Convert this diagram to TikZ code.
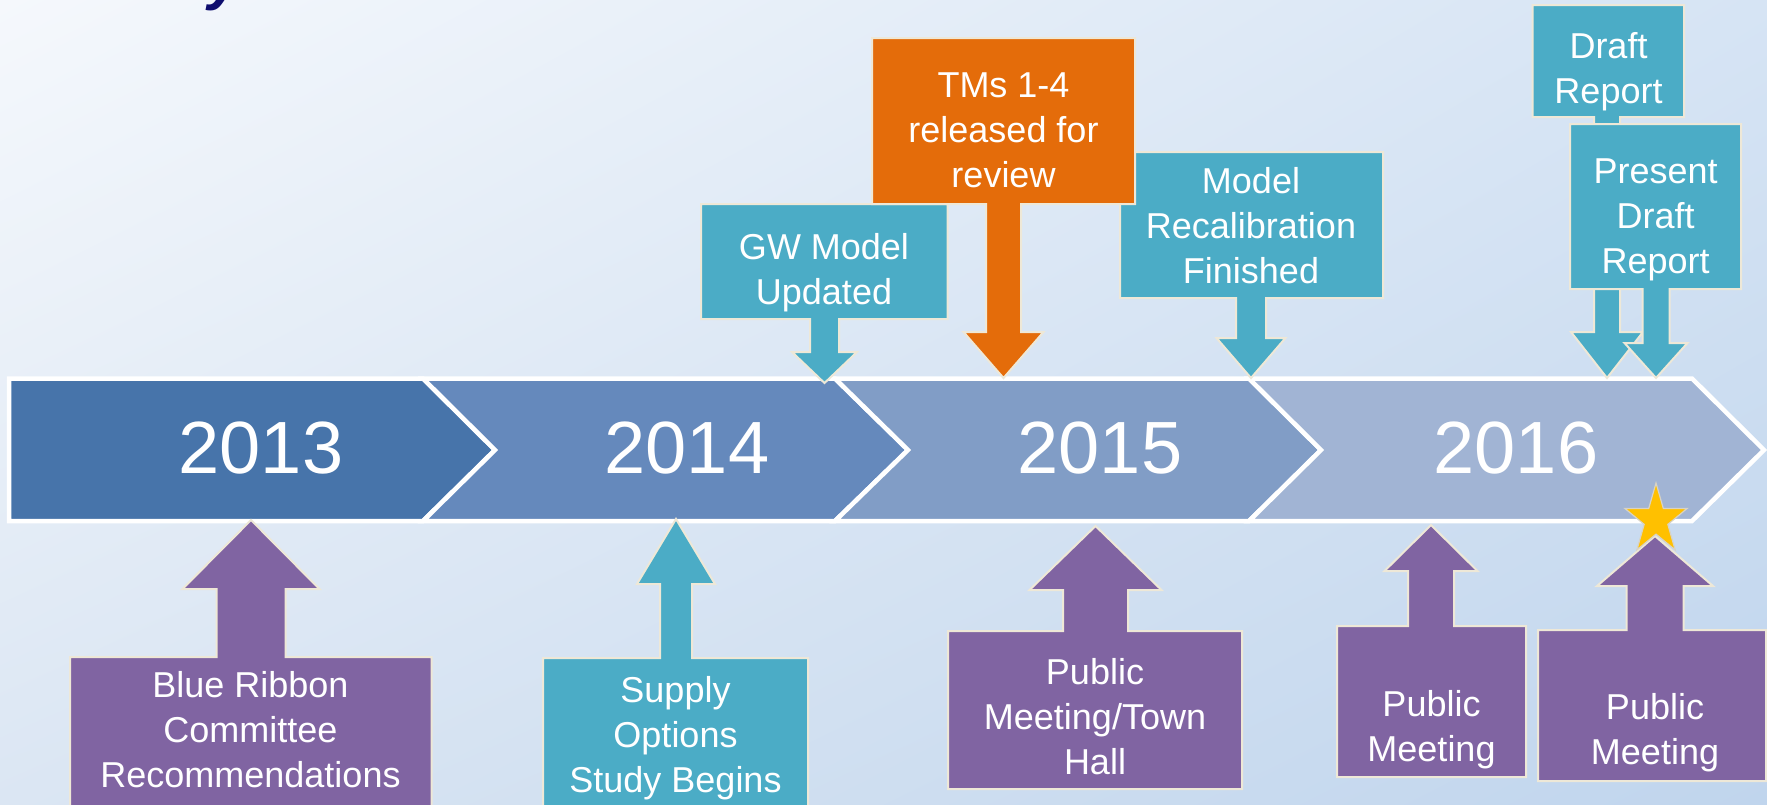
\documentclass[tikz,border=0pt]{standalone}
\usepackage{fontspec}
\setmainfont{Liberation Sans}
\usetikzlibrary{shapes.geometric,shadings}

\definecolor{bgUL}{RGB}{245,248,252}
\definecolor{bgUR}{RGB}{214,228,244}
\definecolor{bgLL}{RGB}{219,230,243}
\definecolor{bgLR}{RGB}{192,213,237}
\definecolor{yearA}{RGB}{71,116,170}
\definecolor{yearB}{RGB}{101,137,188}
\definecolor{yearC}{RGB}{129,157,198}
\definecolor{yearD}{RGB}{161,180,212}
\definecolor{teal}{RGB}{75,172,198}
\definecolor{violet}{RGB}{128,100,162}
\definecolor{amber}{RGB}{228,108,10}
\definecolor{gold}{RGB}{255,192,0}
\definecolor{cream}{RGB}{238,232,215}
\definecolor{navy}{RGB}{13,13,110}

% parameters of one callout: box, shaft and arrow head
\pgfkeys{/callout/.cd,
  left/.store in=\coLeft, right/.store in=\coRight,
  attach/.store in=\coAttach, far/.store in=\coFar,
  cx/.store in=\coX, shaft/.store in=\coShaft, head/.store in=\coHead,
  neck/.store in=\coNeck, tip/.store in=\coTip, color/.store in=\coColor}

% box with an arrow leaving its "attach" edge and pointing to "tip"
\newcommand\callout[1]{%
  \pgfkeys{/callout/.cd,#1}%
  \path[calloutshape, fill=\coColor]
    (\coLeft,\coFar) -- (\coLeft,\coAttach) -- ({\coX-\coShaft},\coAttach)
    -- ({\coX-\coShaft},\coNeck) -- ({\coX-\coHead},\coNeck) -- (\coX,\coTip)
    -- ({\coX+\coHead},\coNeck) -- ({\coX+\coShaft},\coNeck)
    -- ({\coX+\coShaft},\coAttach) -- (\coRight,\coAttach)
    -- (\coRight,\coFar) -- cycle;
}

\tikzset{
  chevron/.style={draw=white, line width=4.5pt, line join=miter},
  calloutshape/.style={draw=cream, line width=2pt, line join=miter},
  yearlabel/.style={text=white, anchor=base, inner sep=0pt,
    font=\fontsize{74}{80}\selectfont},
  callouttext/.style={text=white, align=center, inner sep=0pt,
    font=\fontsize{36}{45}\selectfont,
    execute at begin node=\strut, execute at end node=\strut},
}

\begin{document}
\begin{tikzpicture}[x=1pt,y=-1pt]
\useasboundingbox (0,0) rectangle (1767,804);
\clip (0,0) rectangle (1767,804);

% backdrop
\shade[upper left=bgUL, upper right=bgUR, lower left=bgLL, lower right=bgLR]
  (0,0) rectangle (1767,804);

% tail of the slide heading
\node[anchor=base west, inner sep=0pt, text=navy,
  font=\fontsize{60}{60}\selectfont\bfseries\itshape] (headtail) at (208,-2) {y};

% year band
\fill[chevron, fill=yearA] (9,378.5) -- (423,378.5) -- (495,450) -- (423,521) -- (9,521) -- cycle;
\fill[chevron, fill=yearB] (423,378.5) -- (835,378.5) -- (908,450) -- (835,521) -- (423,521) -- (495,450) -- cycle;
\fill[chevron, fill=yearC] (835,378.5) -- (1249,378.5) -- (1321,450) -- (1249,521) -- (835,521) -- (908,450) -- cycle;
\fill[chevron, fill=yearD] (1249,378.5) -- (1692,378.5) -- (1764,450) -- (1692,521) -- (1249,521) -- (1321,450) -- cycle;

\node[yearlabel] (y2013) at (261,473) {2013};
\node[yearlabel] (y2014) at (687,473) {2014};
\node[yearlabel] (y2015) at (1100,473) {2015};
\node[yearlabel] (y2016) at (1516,473) {2016};

% milestones above the band
\callout{color=teal, left=701, right=947.5, attach=319, far=204,
  cx=824.5, shaft=14.5, head=32.5, neck=352, tip=383}
\node[callouttext] (gw) at (824,275.5) {GW Model\\Updated};

\callout{color=teal, left=1120, right=1383, attach=298, far=152,
  cx=1251, shaft=15, head=34.5, neck=338, tip=378}
\node[callouttext] (recal) at (1251,232) {Model\\Recalibration\\Finished};

\callout{color=amber, left=872, right=1135, attach=204, far=38,
  cx=1003.5, shaft=17.5, head=40, neck=332, tip=378}
\node[callouttext] (tms) at (1003.5,137) {TMs 1-4\\released for\\review};

\callout{color=teal, left=1532.7, right=1684, attach=117, far=5,
  cx=1607, shaft=13, head=36, neck=332, tip=378}
\node[callouttext] (draft) at (1608.5,74.5) {Draft\\Report};

\callout{color=teal, left=1570, right=1741, attach=289, far=124,
  cx=1656, shaft=13.5, head=31.5, neck=343, tip=378}
\node[callouttext] (present) at (1655.7,223) {Present\\Draft\\Report};

% meetings and studies below the band
\callout{color=violet, left=70, right=431.6, attach=657, far=812,
  cx=251, shaft=34.5, head=68.5, neck=589, tip=520}
\node[callouttext] (ribbon) at (250.5,736.5) {Blue Ribbon\\Committee\\Recommendations};

\callout{color=teal, left=543, right=808, attach=658, far=812,
  cx=676, shaft=16, head=39, neck=584, tip=519}
\node[callouttext] (supply) at (675.5,741.5) {Supply\\Options\\Study Begins};

\callout{color=violet, left=948, right=1242, attach=631, far=789,
  cx=1095.5, shaft=32.5, head=66, neck=590, tip=526}
\node[callouttext] (townhall) at (1095,723.5) {Public\\Meeting/Town\\Hall};

\callout{color=violet, left=1337, right=1526, attach=626, far=777,
  cx=1431, shaft=23, head=46.5, neck=571, tip=525}
\node[callouttext] (meetA) at (1431.5,732.5) {Public\\Meeting};

\callout{color=violet, left=1538, right=1766, attach=630, far=781,
  cx=1655, shaft=28.5, head=58, neck=586, tip=536}
\node[callouttext] (meetB) at (1655,736) {Public\\Meeting};

% star on the last meeting
\begin{scope}[shift={(1656,520)}, xscale=32.6, yscale=-37]
  \filldraw[fill=gold, draw=cream!80!gray, line width=1.2pt, line join=miter]
    (90:1) -- (126:0.382) -- (162:1) -- (198:0.382) -- (234:1) -- (270:0.382)
    -- (306:1) -- (342:0.382) -- (18:1) -- (54:0.382) -- cycle;
\end{scope}
\end{tikzpicture}
\end{document}
